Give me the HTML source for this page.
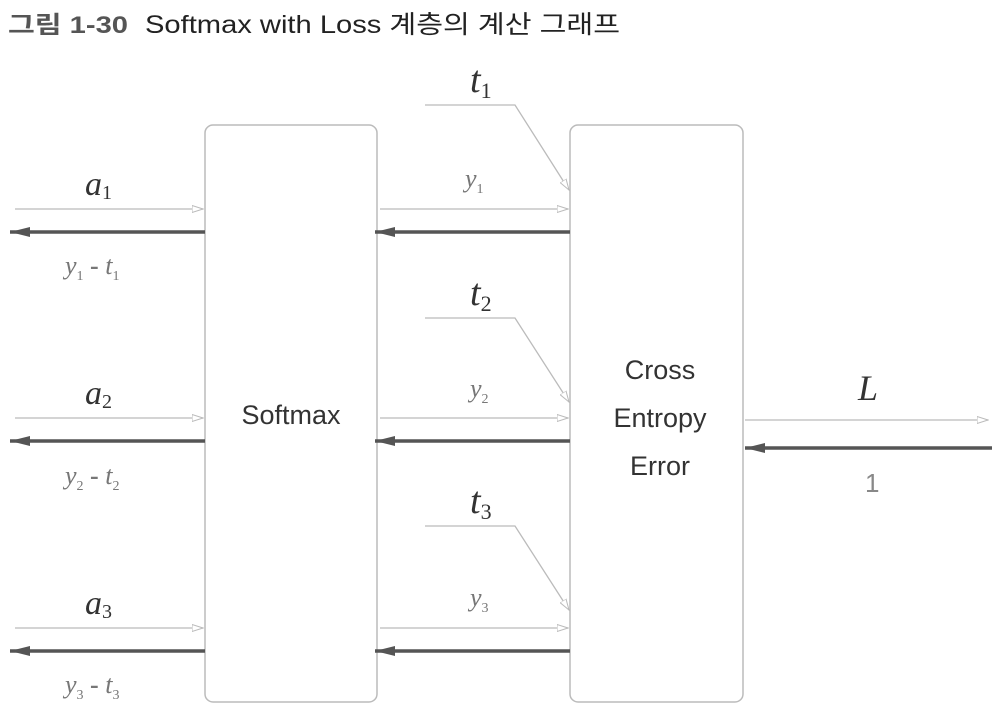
<!DOCTYPE html>
<html><head><meta charset="utf-8"><style>
body{margin:0;background:#fff;width:1002px;height:722px;overflow:hidden}
</style></head><body>
<svg width="1002" height="722" xmlns="http://www.w3.org/2000/svg">
<defs>
<marker id="lt" markerWidth="12" markerHeight="8" refX="11" refY="4" orient="auto" markerUnits="userSpaceOnUse"><path d="M0,0.5 L11,4 L0,7.5 Z" fill="#fff" stroke="#bbb" stroke-width="1"/></marker>
<marker id="dk" markerWidth="20" markerHeight="12" refX="20" refY="6" orient="auto" markerUnits="userSpaceOnUse"><path d="M0,1 L20,6 L0,11 Z" fill="#555"/></marker>
</defs>
<text x="8" y="33" font-family="Liberation Sans, Noto Sans CJK KR, sans-serif" font-size="24" font-weight="bold" fill="#555" textLength="120" lengthAdjust="spacingAndGlyphs">그림 1-30</text>
<text x="145" y="33" font-family="Liberation Sans, Noto Sans CJK KR, sans-serif" font-size="25" fill="#222" textLength="475" lengthAdjust="spacingAndGlyphs">Softmax with Loss 계층의 계산 그래프</text>
<g fill="none" stroke="#bbb" stroke-width="1.5">
<rect x="205" y="125" width="172" height="577" rx="8"/>
<rect x="570" y="125" width="173" height="577" rx="8"/>
</g>
<g stroke="#bbb" stroke-width="1.3" fill="none">
<line x1="15" y1="209" x2="203" y2="209" marker-end="url(#lt)"/>
<line x1="15" y1="418" x2="203" y2="418" marker-end="url(#lt)"/>
<line x1="15" y1="628" x2="203" y2="628" marker-end="url(#lt)"/>
<line x1="380" y1="209" x2="568" y2="209" marker-end="url(#lt)"/>
<line x1="380" y1="418" x2="568" y2="418" marker-end="url(#lt)"/>
<line x1="380" y1="628" x2="568" y2="628" marker-end="url(#lt)"/>
<line x1="745" y1="420" x2="988" y2="420" marker-end="url(#lt)"/>
<polyline points="425,105 515,105 569,190" marker-end="url(#lt)"/>
<polyline points="425,318 515,318 569,402" marker-end="url(#lt)"/>
<polyline points="425,526 515,526 569,610" marker-end="url(#lt)"/>
</g>
<g stroke="#555" stroke-width="3.5">
<line x1="205" y1="232" x2="10" y2="232" marker-end="url(#dk)"/>
<line x1="205" y1="441" x2="10" y2="441" marker-end="url(#dk)"/>
<line x1="205" y1="651" x2="10" y2="651" marker-end="url(#dk)"/>
<line x1="570" y1="232" x2="375" y2="232" marker-end="url(#dk)"/>
<line x1="570" y1="441" x2="375" y2="441" marker-end="url(#dk)"/>
<line x1="570" y1="651" x2="375" y2="651" marker-end="url(#dk)"/>
<line x1="992" y1="448" x2="745" y2="448" marker-end="url(#dk)"/>
</g>
<g font-family="Liberation Serif, serif" font-style="italic" fill="#333">
<text x="85" y="195" font-size="34">a<tspan font-size="20" font-style="normal" dy="4">1</tspan></text>
<text x="85" y="404" font-size="34">a<tspan font-size="20" font-style="normal" dy="4">2</tspan></text>
<text x="85" y="614" font-size="34">a<tspan font-size="20" font-style="normal" dy="4">3</tspan></text>
<text x="470" y="92" font-size="38">t<tspan font-size="22" font-style="normal" dy="6">1</tspan></text>
<text x="470" y="305" font-size="38">t<tspan font-size="22" font-style="normal" dy="6">2</tspan></text>
<text x="470" y="513" font-size="38">t<tspan font-size="22" font-style="normal" dy="6">3</tspan></text>
<text x="858" y="400" font-size="36">L</text>
</g>
<g font-family="Liberation Serif, serif" font-style="italic" fill="#777" font-size="26">
<text x="465" y="187">y<tspan font-size="14" font-style="normal" dy="6">1</tspan></text>
<text x="470" y="397">y<tspan font-size="14" font-style="normal" dy="6">2</tspan></text>
<text x="470" y="606">y<tspan font-size="14" font-style="normal" dy="6">3</tspan></text>
<text x="65" y="274">y<tspan font-size="14" font-style="normal" dy="6">1</tspan><tspan dy="-6" font-style="normal" font-weight="bold"> - </tspan>t<tspan font-size="14" font-style="normal" dy="6">1</tspan></text>
<text x="65" y="484">y<tspan font-size="14" font-style="normal" dy="6">2</tspan><tspan dy="-6" font-style="normal" font-weight="bold"> - </tspan>t<tspan font-size="14" font-style="normal" dy="6">2</tspan></text>
<text x="65" y="693">y<tspan font-size="14" font-style="normal" dy="6">3</tspan><tspan dy="-6" font-style="normal" font-weight="bold"> - </tspan>t<tspan font-size="14" font-style="normal" dy="6">3</tspan></text>
</g>
<text x="865" y="492" font-family="Liberation Sans, sans-serif" font-size="26" fill="#888">1</text>
<g font-family="Liberation Sans, sans-serif" font-size="27" fill="#333" text-anchor="middle">
<text x="291" y="424">Softmax</text>
<text x="660" y="379">Cross</text>
<text x="660" y="427">Entropy</text>
<text x="660" y="475">Error</text>
</g>
</svg>
</body></html>
